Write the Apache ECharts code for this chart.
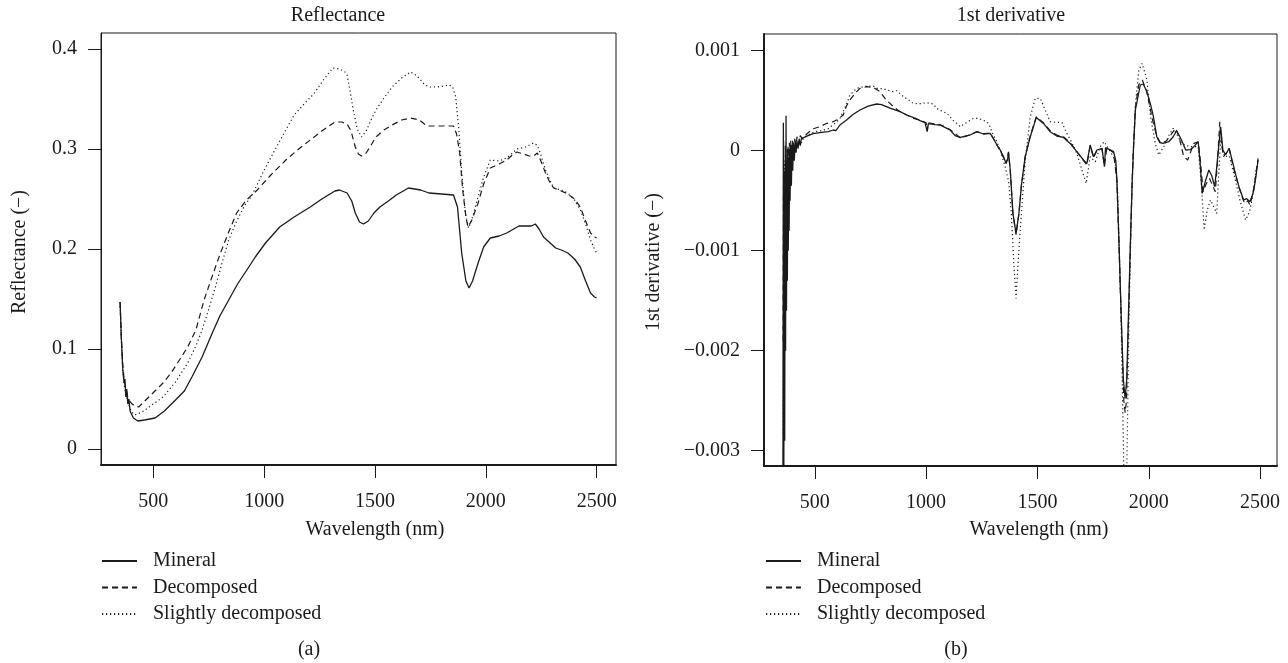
<!DOCTYPE html>
<html>
<head>
<meta charset="utf-8">
<script src="https://cdn.jsdelivr.net/npm/echarts@6/dist/echarts.min.js"></script>
<style>
  html, body { margin: 0; padding: 0; background: #fff; }
  #chart { width: 1288px; height: 663px; }
</style>
</head>
<body>
<div id="chart"></div>
<script>
// ---- data ----
var names = ['Mineral', 'Decomposed', 'Slightly decomposed'];
var xTicks = [500, 1000, 1500, 2000, 2500];
var reflTicks = [0, 0.1, 0.2, 0.3, 0.4];
var derivTicks = [-0.003, -0.002, -0.001, 0, 0.001];

// (a) Reflectance
var reflWlMineral = [350, 356, 362, 368, 372, 376, 380, 385, 390, 395, 400, 410, 430, 460, 508, 550, 600, 640, 674, 720, 766, 800, 840, 880, 913, 960, 1006, 1070, 1135, 1208, 1260, 1319, 1340, 1374, 1395, 1411, 1430, 1448, 1470, 1495, 1522, 1560, 1596, 1651, 1706, 1743, 1800, 1854, 1872, 1891, 1910, 1924, 1940, 1965, 1990, 2020, 2060, 2094, 2149, 2205, 2223, 2240, 2260, 2290, 2315, 2340, 2370, 2400, 2426, 2450, 2472, 2490, 2500];
var reflMineral = [0.147, 0.11, 0.08, 0.066, 0.07, 0.052, 0.06, 0.045, 0.05, 0.038, 0.036, 0.031, 0.028, 0.029, 0.031, 0.038, 0.049, 0.058, 0.072, 0.092, 0.116, 0.133, 0.149, 0.165, 0.176, 0.192, 0.206, 0.222, 0.232, 0.242, 0.25, 0.258, 0.259, 0.256, 0.248, 0.236, 0.227, 0.225, 0.228, 0.236, 0.242, 0.248, 0.254, 0.261, 0.259, 0.256, 0.255, 0.254, 0.242, 0.196, 0.168, 0.161, 0.168, 0.186, 0.202, 0.211, 0.213, 0.216, 0.223, 0.223, 0.225, 0.22, 0.212, 0.206, 0.201, 0.199, 0.196, 0.19, 0.182, 0.168, 0.156, 0.152, 0.151];

var reflWlDecomp = [350, 356, 362, 368, 374, 380, 386, 392, 400, 415, 434, 480, 544, 580, 618, 655, 692, 729, 766, 803, 840, 876, 920, 969, 1030, 1098, 1150, 1208, 1260, 1319, 1350, 1374, 1392, 1411, 1425, 1439, 1460, 1480, 1504, 1540, 1577, 1620, 1660, 1700, 1734, 1760, 1800, 1854, 1868, 1882, 1895, 1910, 1919, 1935, 1965, 1990, 2020, 2060, 2094, 2120, 2140, 2170, 2195, 2215, 2232, 2250, 2269, 2290, 2306, 2340, 2370, 2400, 2426, 2450, 2472, 2490, 2500];
var reflDecomp = [0.147, 0.11, 0.085, 0.07, 0.062, 0.058, 0.05, 0.052, 0.046, 0.043, 0.042, 0.052, 0.066, 0.076, 0.089, 0.102, 0.119, 0.149, 0.173, 0.196, 0.217, 0.236, 0.249, 0.259, 0.274, 0.289, 0.299, 0.309, 0.318, 0.327, 0.327, 0.325, 0.318, 0.302, 0.295, 0.293, 0.296, 0.303, 0.312, 0.319, 0.324, 0.329, 0.331, 0.329, 0.323, 0.323, 0.323, 0.323, 0.315, 0.296, 0.26, 0.232, 0.222, 0.228, 0.246, 0.265, 0.281, 0.285, 0.289, 0.294, 0.297, 0.295, 0.293, 0.293, 0.296, 0.287, 0.276, 0.266, 0.261, 0.258, 0.255, 0.25, 0.242, 0.228, 0.216, 0.212, 0.211];

var reflWlSlight = [350, 356, 362, 368, 374, 380, 386, 392, 400, 415, 450, 500, 544, 600, 655, 692, 720, 750, 780, 810, 840, 876, 913, 940, 970, 1000, 1024, 1080, 1135, 1180, 1227, 1270, 1310, 1340, 1365, 1374, 1390, 1402, 1420, 1439, 1460, 1480, 1504, 1540, 1577, 1620, 1660, 1690, 1725, 1750, 1780, 1810, 1836, 1850, 1864, 1878, 1891, 1908, 1922, 1940, 1965, 1990, 2020, 2060, 2094, 2120, 2140, 2180, 2214, 2230, 2241, 2255, 2269, 2290, 2306, 2340, 2370, 2400, 2426, 2450, 2472, 2490, 2500];
var reflSlight = [0.147, 0.108, 0.08, 0.065, 0.056, 0.052, 0.046, 0.044, 0.038, 0.034, 0.037, 0.045, 0.052, 0.067, 0.086, 0.103, 0.119, 0.14, 0.162, 0.186, 0.209, 0.228, 0.244, 0.252, 0.265, 0.279, 0.289, 0.312, 0.334, 0.345, 0.356, 0.37, 0.381, 0.38, 0.377, 0.374, 0.355, 0.339, 0.32, 0.312, 0.318, 0.328, 0.339, 0.351, 0.362, 0.371, 0.377, 0.373, 0.364, 0.362, 0.362, 0.363, 0.364, 0.362, 0.352, 0.32, 0.276, 0.235, 0.221, 0.232, 0.252, 0.272, 0.289, 0.288, 0.291, 0.296, 0.3, 0.302, 0.306, 0.304, 0.299, 0.289, 0.279, 0.268, 0.261, 0.259, 0.256, 0.249, 0.239, 0.225, 0.209, 0.2, 0.196];

// (b) 1st derivative
var derWlMineral = [357, 359, 361, 363, 365, 367, 369, 371, 373, 375, 377, 379, 381, 383, 385, 387, 389, 392, 395, 398, 401, 404, 408, 412, 416, 420, 425, 430, 435, 440, 448, 470, 493, 523, 560, 583, 595, 613, 643, 670, 703, 740, 778, 800, 838, 883, 913, 950, 973, 995, 1000, 1005, 1010, 1040, 1063, 1093, 1108, 1130, 1153, 1183, 1198, 1228, 1258, 1288, 1303, 1318, 1333, 1348, 1358, 1366, 1370, 1378, 1390, 1404, 1417, 1428, 1445, 1468, 1495, 1527, 1557, 1587, 1617, 1647, 1677, 1707, 1722, 1737, 1752, 1767, 1790, 1797, 1801, 1806, 1812, 1842, 1852, 1857, 1867, 1876, 1886, 1894, 1901, 1909, 1917, 1925, 1932, 1940, 1962, 1975, 1990, 2007, 2020, 2036, 2050, 2064, 2090, 2110, 2125, 2135, 2147, 2166, 2185, 2203, 2222, 2230, 2240, 2255, 2270, 2283, 2296, 2306, 2314, 2323, 2333, 2345, 2351, 2361, 2375, 2389, 2405, 2426, 2440, 2454, 2465, 2472, 2482, 2491];
var derMineral = [-0.0033, 0.00028, -0.00325, -0.0004, -0.0029, -0.0003, -0.002, 0.00035, -0.0016, -0.0002, -0.0013, 0, -0.001, -0.0001, -0.0008, 0.00002, -0.0005, 0.00005, -0.00035, 0.00006, -0.0002, 0.00008, -0.0001, 0.0001, -0.00002, 0.0001, 0.00002, 0.00012, 0.00005, 0.00012, 0.00014, 0.00015, 0.00017, 0.00018, 0.00019, 0.000207, 0.0002, 0.000257, 0.000307, 0.00036, 0.000407, 0.000445, 0.000467, 0.00046, 0.000425, 0.00039, 0.000357, 0.000325, 0.0003, 0.00028, 0.00027, 0.00019, 0.00027, 0.00026, 0.000257, 0.000223, 0.000207, 0.00015, 0.000133, 0.000147, 0.000157, 0.00019, 0.000167, 0.000173, 0.00012, 0.000057, 0.000007, -0.00006, -0.00012, -0.00009, -0.00001, -0.000193, -0.000627, -0.000827, -0.000627, -0.00035, -0.00006, 0.00014, 0.000333, 0.000273, 0.00019, 0.000147, 0.000133, 0.000073, -0.00001, -0.000093, -0.00013, 0.000057, -0.00006, 0.000007, 0.000023, 0.00002, -0.00016, 0.00003, 0.000033, -0.00001, -0.0001, -0.000293, -0.00096, -0.00163, -0.00229, -0.002477, -0.00229, -0.00163, -0.00096, -0.00035, 0.00005, 0.000407, 0.000657, 0.000667, 0.0006, 0.000473, 0.00035, 0.00014, 0.00008, 0.000073, 0.00009, 0.00014, 0.0002, 0.00016, 0.000107, 0.000007, 0.00001, 0.00004, 0.00009, -0.0001, -0.000427, -0.0003, -0.000193, -0.00025, -0.00036, -0.00015, 0.00004, 0.00024, 0.000007, -0.00004, -0.000027, 0.000023, -0.0001, -0.000227, -0.00036, -0.000493, -0.00048, -0.00051, -0.00045, -0.000393, -0.00025, -0.000093];

var derWlDecomp = [358, 360, 362, 364, 366, 368, 370, 372, 374, 376, 378, 380, 383, 386, 389, 392, 396, 400, 405, 410, 415, 420, 428, 435, 445, 470, 493, 523, 550, 583, 600, 628, 643, 658, 680, 703, 733, 763, 793, 820, 853, 883, 913, 943, 973, 1000, 1005, 1010, 1063, 1093, 1108, 1153, 1198, 1228, 1258, 1288, 1318, 1348, 1360, 1370, 1378, 1390, 1404, 1417, 1428, 1445, 1468, 1495, 1527, 1557, 1587, 1617, 1647, 1677, 1707, 1722, 1737, 1752, 1767, 1790, 1801, 1812, 1842, 1857, 1867, 1878, 1888, 1894, 1900, 1909, 1917, 1925, 1932, 1940, 1955, 1971, 1990, 2017, 2035, 2054, 2080, 2100, 2120, 2135, 2157, 2175, 2190, 2203, 2222, 2232, 2244, 2258, 2273, 2287, 2299, 2309, 2319, 2328, 2336, 2350, 2361, 2375, 2389, 2410, 2430, 2445, 2454, 2465, 2472, 2482, 2491];
var derDecomp = [-0.0019, 0.0001, -0.0017, -0.0002, -0.0015, 0.00005, -0.0011, -0.0001, -0.0009, 0.00002, -0.0006, 0.00005, -0.00045, 0.00008, -0.0003, 0.0001, -0.00015, 0.0001, -0.00005, 0.00012, 0.00002, 0.00014, 0.00006, 0.00015, 0.00012, 0.00018, 0.00022, 0.00024, 0.00027, 0.00029, 0.00031, 0.000357, 0.00045, 0.000507, 0.00057, 0.000623, 0.00064, 0.000633, 0.00059, 0.00051, 0.00044, 0.00039, 0.000357, 0.000323, 0.000307, 0.00028, 0.0002, 0.00028, 0.00026, 0.00023, 0.00021, 0.00013, 0.00016, 0.00019, 0.00017, 0.000175, 0.00006, -0.00007, -0.00013, -0.00002, -0.0002, -0.00063, -0.00084, -0.00063, -0.00035, -0.00006, 0.00015, 0.00034, 0.00028, 0.0002, 0.000155, 0.00014, 0.00008, -0.00001, -0.0001, -0.00014, 0.00005, -0.00007, 0, 0.00002, -0.00015, 0.00003, -0.00002, -0.0003, -0.001, -0.0018, -0.0025, -0.00262, -0.0025, -0.0017, -0.001, -0.00035, 0.00007, 0.00043, 0.00066, 0.000707, 0.0006, 0.000307, 0.00015, 0.000073, 0.0001, 0.00016, 0.000223, 0.00015, -0.00006, -0.000093, 0, 0.000073, 0.00009, -0.0001, -0.00041, -0.00033, -0.000277, -0.00035, -0.00041, -0.0001, 0.00029, 0.00005, -0.00006, -0.00002, 0.000023, -0.00012, -0.000243, -0.0004, -0.000527, -0.0005, -0.000543, -0.00045, -0.000377, -0.00022, -0.000077];

var derWlSlight = [359, 361, 363, 365, 367, 369, 371, 373, 375, 377, 380, 383, 386, 389, 392, 396, 400, 405, 410, 415, 420, 430, 440, 448, 470, 500, 530, 560, 583, 613, 640, 658, 688, 733, 763, 778, 808, 823, 853, 868, 898, 913, 943, 973, 1003, 1033, 1048, 1093, 1123, 1138, 1153, 1180, 1213, 1235, 1243, 1273, 1288, 1295, 1318, 1333, 1355, 1370, 1383, 1394, 1404, 1413, 1428, 1445, 1468, 1490, 1513, 1535, 1557, 1587, 1610, 1632, 1655, 1677, 1707, 1719, 1737, 1760, 1782, 1800, 1819, 1849, 1860, 1875, 1890, 1895, 1900, 1912, 1925, 1940, 1955, 1970, 1992, 2008, 2029, 2045, 2070, 2090, 2110, 2130, 2147, 2184, 2222, 2235, 2249, 2262, 2277, 2290, 2305, 2314, 2323, 2333, 2342, 2361, 2375, 2389, 2410, 2435, 2445, 2454, 2463, 2472, 2482, 2491];
var derSlight = [-0.00283, -0.0003, -0.0022, -0.0001, -0.0017, 0, -0.0013, -0.00015, -0.001, 0, -0.0007, 0.00002, -0.0004, 0.00005, -0.00025, 0.00006, -0.0001, 0.00008, -0.00002, 0.0001, 0.00003, 0.0001, 0.00008, 0.00012, 0.00016, 0.00019, 0.0002, 0.00022, 0.00026, 0.00032, 0.00045, 0.000557, 0.000623, 0.000647, 0.000647, 0.000623, 0.00062, 0.000607, 0.00059, 0.0006, 0.00054, 0.00052, 0.000473, 0.00047, 0.00048, 0.000467, 0.000423, 0.000373, 0.0003, 0.000273, 0.00024, 0.00028, 0.000323, 0.000323, 0.000307, 0.00029, 0.00024, 0.00019, 0.00009, 0.000007, -0.00016, -0.0003, -0.000627, -0.001127, -0.001477, -0.001127, -0.000627, -0.0001, 0.00034, 0.000523, 0.000523, 0.000407, 0.00029, 0.000283, 0.000283, 0.000173, 0.00008, -0.000027, -0.000243, -0.000327, -0.00006, -0.00011, 0.00004, 0.00009, 0.000023, -0.000093, -0.0004, -0.0016, -0.0034, -0.0034, -0.0034, -0.0016, -0.0003, 0.00045, 0.0008, 0.000873, 0.000707, 0.00034, 0.000073, -0.000043, 0.00005, 0.00015, 0.000223, 0.00015, 0.000073, 0.00004, 0.00004, -0.0003, -0.000793, -0.0006, -0.000493, -0.00055, -0.000627, -0.00025, 0.000107, 0, -0.00006, -0.00005, -0.00017, -0.000293, -0.0005, -0.000693, -0.00065, -0.000593, -0.0005, -0.00036, -0.0002, -0.000093];

// ---- chart ----
var FONT = '"Liberation Serif", "DejaVu Serif", serif';
var INK = '#1a1a1a';
var lineStyles = [
    { color: INK, width: 1.3, type: 'solid' },
    { color: INK, width: 1.2, type: [6, 4] },
    { color: INK, width: 1.2, type: [1.2, 2.8] }
];

function zip(xs, ys) {
    var out = [];
    for (var i = 0; i < xs.length; i++) out.push([xs[i], ys[i]]);
    return out;
}

function derivLabel(v) {
    if (Math.abs(v) < 1e-12) return '0';
    return (v < 0 ? '\u2212' : '') + Math.abs(v).toFixed(3);
}

function makeX(gridIndex, min, max) {
    return {
        type: 'value', gridIndex: gridIndex, min: min, max: max,
        axisLine: { show: true, onZero: false, lineStyle: { color: INK, width: 2 } },
        axisTick: { show: true, inside: false, length: 13, customValues: xTicks, lineStyle: { color: INK, width: 1 } },
        axisLabel: {
            show: true, margin: 27, customValues: xTicks,
            formatter: function (v) { return String(Math.round(v)); },
            fontFamily: FONT, fontSize: 20, color: INK
        },
        splitLine: { show: false }
    };
}

function makeY(gridIndex, min, max, ticks, fmt, lineWidth) {
    return {
        type: 'value', gridIndex: gridIndex, min: min, max: max,
        axisLine: { show: true, onZero: false, lineStyle: { color: INK, width: lineWidth } },
        axisTick: { show: true, inside: false, length: 13, customValues: ticks, lineStyle: { color: INK, width: 1 } },
        axisLabel: { show: true, margin: 24, customValues: ticks, formatter: fmt, fontFamily: FONT, fontSize: 20, color: INK },
        splitLine: { show: false }
    };
}

function makeSeries(name, data, idx, axisIdx) {
    return {
        name: name, type: 'line', xAxisIndex: axisIdx, yAxisIndex: axisIdx,
        data: data, showSymbol: false, symbol: 'none', smooth: false,
        clip: true, silent: true, animation: false,
        itemStyle: { color: INK },
        lineStyle: lineStyles[idx]
    };
}

function makeLegend(left) {
    return {
        left: left, top: 551, orient: 'vertical', padding: 0,
        itemWidth: 35, itemHeight: 14, itemGap: 6.5,
        selectedMode: false, data: names,
        itemStyle: { opacity: 0, borderWidth: 0 },
        textStyle: { fontFamily: FONT, fontSize: 20, color: INK, padding: [0, 0, 0, 11] }
    };
}

function txt(x, y, s, rot) {
    return {
        type: 'text', x: x, y: y, rotation: rot || 0,
        style: { text: s, fontFamily: FONT, fontSize: 20, fill: INK, align: 'center', verticalAlign: 'middle' }
    };
}

var chart = echarts.init(document.getElementById('chart'), null, { renderer: 'canvas' });

var option = {
    backgroundColor: '#fff',
    animation: false,
    grid: [
        { left: 101, top: 33, width: 515, height: 432, show: true, borderColor: INK, borderWidth: 1, containLabel: false },
        { left: 764, top: 34, width: 513, height: 432, show: true, borderColor: INK, borderWidth: 1, containLabel: false }
    ],
    xAxis: [
        makeX(0, 264, 2587),
        makeX(1, 272, 2576)
    ],
    yAxis: [
        makeY(0, -0.016, 0.416, reflTicks, function (v) { return String(+v.toFixed(1)); }, 1),
        makeY(1, -0.003153, 0.001167, derivTicks, derivLabel, 2)
    ],
    legend: [makeLegend(101), makeLegend(765)],
    series: [
        makeSeries(names[0], zip(reflWlMineral, reflMineral), 0, 0),
        makeSeries(names[1], zip(reflWlDecomp, reflDecomp), 1, 0),
        makeSeries(names[2], zip(reflWlSlight, reflSlight), 2, 0),
        makeSeries(names[0], zip(derWlMineral, derMineral), 0, 1),
        makeSeries(names[1], zip(derWlDecomp, derDecomp), 1, 1),
        makeSeries(names[2], zip(derWlSlight, derSlight), 2, 1)
    ],
    graphic: [
        txt(338, 16, 'Reflectance'),
        txt(1011, 16, '1st derivative'),
        txt(20, 252, 'Reflectance (\u2212)', Math.PI / 2),
        txt(654, 262, '1st derivative (\u2212)', Math.PI / 2),
        txt(375, 530, 'Wavelength (nm)'),
        txt(1039, 530, 'Wavelength (nm)'),
        txt(309, 650, '(a)'),
        txt(956, 650, '(b)')
    ]
};

chart.setOption(option);
</script>
</body>
</html>
